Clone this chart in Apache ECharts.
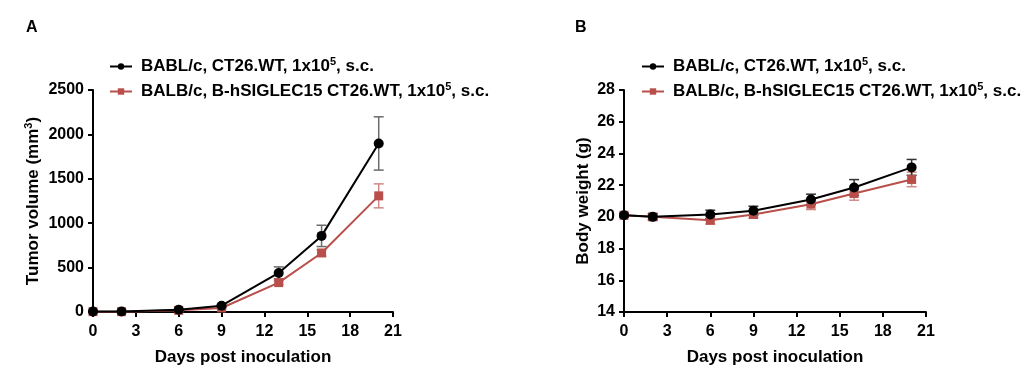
<!DOCTYPE html>
<html>
<head>
<meta charset="utf-8">
<script src="https://cdn.jsdelivr.net/npm/echarts@6/dist/echarts.min.js"></script>
<style>
  html, body { margin: 0; padding: 0; background: #fff; }
  #chart { width: 1029px; height: 376px; }
</style>
</head>
<body>
<div id="chart"></div>
<script>
// days of measurement
var days = [0, 2, 6, 9, 13, 16, 20];
// tumor volume (mm3), mean and SEM
var volWT = [5, 5, 26, 71, 440, 857, 1898];
var volWTErr = [0, 0, 6, 12, 68, 120, 300];
var volHs = [4, 4, 19, 45, 331, 665, 1308];
var volHsErr = [0, 0, 5, 8, 20, 35, 135];
// body weight (g), mean and SEM
var bwWT = [20.1, 20.0, 20.15, 20.38, 21.1, 21.85, 23.12];
var bwWTErr = [0.12, 0.2, 0.27, 0.29, 0.33, 0.5, 0.5];
var bwHs = [20.1, 20.0, 19.79, 20.15, 20.8, 21.47, 22.36];
var bwHsErr = [0.12, 0.15, 0.25, 0.22, 0.34, 0.42, 0.46];

var nameWT = "BABL/c, CT26.WT, 1x10^5, s.c.";
var nameHs = "BALB/c, B-hSIGLEC15 CT26.WT, 1x10^5, s.c.";

var BLACK = "#000000";
var RED = "#b84f4b";
var FONT = "Arial";

var chart = echarts.init(document.getElementById("chart"));

var rich = {
  sup: { fontSize: 11, fontWeight: "bold", fontFamily: FONT, color: "#000", padding: [0, 0, 10, 0] }
};

function pts(xs, ys) {
  return xs.map(function (d, i) { return [d, ys[i]]; });
}
function errData(xs, ys, es) {
  return xs.map(function (d, i) { return [d, ys[i] - es[i], ys[i] + es[i]]; });
}
function errSeries(idx, data, color, z) {
  return {
    type: "custom",
    xAxisIndex: idx,
    yAxisIndex: idx,
    z: z,
    silent: true,
    data: data,
    renderItem: function (params, api) {
      var lo = api.coord([api.value(0), api.value(1)]);
      var hi = api.coord([api.value(0), api.value(2)]);
      var w = 5;
      var st = { stroke: color, lineWidth: 1.5 };
      return {
        type: "group",
        children: [
          { type: "line", shape: { x1: lo[0], y1: lo[1], x2: hi[0], y2: hi[1] }, style: st },
          { type: "line", shape: { x1: hi[0] - w, y1: hi[1], x2: hi[0] + w, y2: hi[1] }, style: st },
          { type: "line", shape: { x1: lo[0] - w, y1: lo[1], x2: lo[0] + w, y2: lo[1] }, style: st }
        ]
      };
    }
  };
}
function xAxis(idx) {
  return {
    type: "value",
    gridIndex: idx,
    min: 0, max: 21, interval: 3,
    name: "Days post inoculation",
    nameLocation: "middle",
    nameGap: 37,
    nameTextStyle: { fontSize: 17, fontWeight: "bold", color: "#000", fontFamily: FONT },
    axisLine: { lineStyle: { color: "#000", width: 2 } },
    axisTick: { length: 5, lineStyle: { color: "#000", width: 2 } },
    axisLabel: { fontSize: 16, fontWeight: "bold", color: "#000", fontFamily: FONT, margin: 12 },
    splitLine: { show: false }
  };
}
function yAxis(idx, min, max, step, name, gap) {
  return {
    type: "value",
    gridIndex: idx,
    min: min, max: max, interval: step,
    name: name,
    nameLocation: "middle",
    nameRotate: 90,
    nameGap: gap,
    nameTextStyle: { fontSize: 17, fontWeight: "bold", color: "#000", fontFamily: FONT, rich: rich },
    axisLine: { show: true, lineStyle: { color: "#000", width: 2 } },
    axisTick: { show: true, length: 5, lineStyle: { color: "#000", width: 2 } },
    axisLabel: {
      fontSize: 16, fontWeight: "bold", color: "#000", fontFamily: FONT, margin: 9,
      formatter: function (v) { return String(v); }
    },
    splitLine: { show: false }
  };
}
function lineSeries(idx, name, data, color, symbol, z) {
  return {
    type: "line",
    name: name,
    xAxisIndex: idx,
    yAxisIndex: idx,
    data: data,
    z: z,
    symbol: symbol,
    symbolSize: symbol === "circle" ? 10 : 9,
    lineStyle: { color: color, width: 2 },
    itemStyle: { color: color },
    emphasis: { disabled: true }
  };
}
function legend(left) {
  return {
    orient: "vertical",
    left: left,
    top: 51,
    itemWidth: 22,
    itemHeight: 8,
    itemGap: 6,
    data: [nameWT, nameHs],
    formatter: function (n) { return n.replace("^5", "{sup|5}"); },
    textStyle: { fontSize: 17, fontWeight: "bold", color: "#000", fontFamily: FONT, padding: [0, 0, 0, 4], rich: rich }
  };
}

chart.setOption({
  animation: false,
  title: [
    { text: "A", left: 21, top: 15, textStyle: { fontSize: 16, fontWeight: "bold", color: "#000", fontFamily: FONT } },
    { text: "B", left: 570, top: 15, textStyle: { fontSize: 16, fontWeight: "bold", color: "#000", fontFamily: FONT } }
  ],
  legend: [legend(104), legend(636)],
  grid: [
    { left: 93, top: 90, width: 300, height: 222 },
    { left: 624, top: 90, width: 302, height: 222 }
  ],
  xAxis: [xAxis(0), xAxis(1)],
  yAxis: [
    yAxis(0, 0, 2500, 500, "Tumor volume (mm{sup|3})", 49),
    yAxis(1, 14, 28, 2, "Body weight (g)", 32)
  ],
  series: [
    errSeries(0, errData(days, volHs, volHsErr), "#cf8a87", 2),
    errSeries(0, errData(days, volWT, volWTErr), "#6b6b6b", 2),
    lineSeries(0, nameHs, pts(days, volHs), RED, "rect", 3),
    lineSeries(0, nameWT, pts(days, volWT), BLACK, "circle", 4),
    errSeries(1, errData(days, bwHs, bwHsErr), "#cf8a87", 2),
    errSeries(1, errData(days, bwWT, bwWTErr), "#333333", 2),
    lineSeries(1, nameHs, pts(days, bwHs), RED, "rect", 3),
    lineSeries(1, nameWT, pts(days, bwWT), BLACK, "circle", 4)
  ]
});
</script>
</body>
</html>
